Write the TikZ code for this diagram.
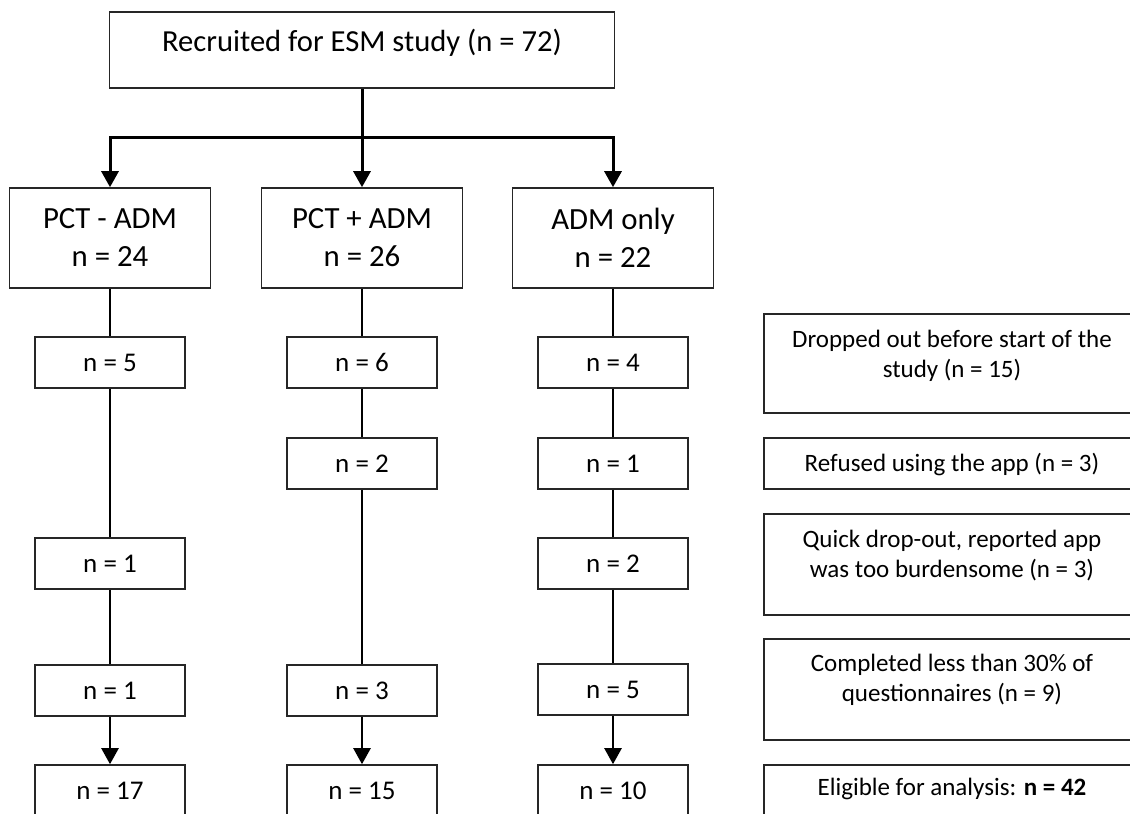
\documentclass[tikz,border=0pt]{standalone}
\usepackage{fontspec}
\setmainfont{Carlito}
\usetikzlibrary{arrows.meta}
\tikzset{
  box/.style={draw=black!85, line width=0.8pt, inner sep=0pt, fill=white, align=center},
  topbox/.style={box, minimum width=252.5pt, minimum height=38pt},
  grpbox/.style={box, minimum width=100.5pt, minimum height=50pt, font=\fontsize{15.4}{19}\selectfont},
  smallbox/.style={box, minimum width=75pt, minimum height=25.5pt, font=\fontsize{13.5}{16}\selectfont},
  sidebox/.style={box, minimum width=188pt},
  sidetext/.style={align=center, inner sep=0pt, font=\fontsize{12.5}{15}\selectfont},
  conn/.style={line width=1.2pt, black},
  arr/.style={conn, -{Triangle[length=8pt,width=8.5pt]}},
}
\begin{document}
\begin{tikzpicture}[x=0.5pt,y=-0.5pt]
\useasboundingbox (0,0) rectangle (1130,814);
\clip (0,0) rectangle (1130,814);
\fill[white] (0,0) rectangle (1130,814);

% top box
\node[topbox] (top) at (362,50) {};
\node[inner sep=0pt, font=\fontsize{15.3}{19}\selectfont] (ttop) at (362,43) {Recruited for ESM study (n = 72)};

% group boxes
\node[grpbox] (g1) at (110,238) {PCT - ADM\\n = 24};
\node[grpbox] (g2) at (362,238) {PCT + ADM\\n = 26};
\node[grpbox] (g3) at (613,238) {ADM only\\n = 22};

% branch
\coordinate (br) at (362,137);
\draw[line width=1.5pt] (top.south) -- (br);
\draw[arr, line width=1.5pt] (br) -| (g1.north);
\draw[arr, line width=1.5pt] (br) -| (g3.north);
\draw[arr, line width=1.5pt] (br) -- (g2.north);

% column 1
\node[smallbox] (a1) at (110,362.5) {n = 5};
\node[smallbox] (c1) at (110,563.5) {n = 1};
\node[smallbox] (d1) at (110,690.5) {n = 1};
\node[smallbox] (e1) at (110,790.5) {n = 17};
% column 2
\node[smallbox] (a2) at (362,362.5) {n = 6};
\node[smallbox] (b2) at (362,463.5) {n = 2};
\node[smallbox] (d2) at (362,690.5) {n = 3};
\node[smallbox] (e2) at (362,790.5) {n = 15};
% column 3
\node[smallbox] (a3) at (613,362.5) {n = 4};
\node[smallbox] (b3) at (613,463.5) {n = 1};
\node[smallbox] (c3) at (613,563.5) {n = 2};
\node[smallbox] (d3) at (613,689.5) {n = 5};
\node[smallbox] (e3) at (613,790.5) {n = 10};

\draw[conn] (g1.south) -- (a1.north);
\draw[conn] (a1.south) -- (c1.north);
\draw[conn] (c1.south) -- (d1.north);
\draw[arr] (d1.south) -- (e1.north);

\draw[conn] (g2.south) -- (a2.north);
\draw[conn] (a2.south) -- (b2.north);
\draw[conn] (b2.south) -- (d2.north);
\draw[arr] (d2.south) -- (e2.north);

\draw[conn] (g3.south) -- (a3.north);
\draw[conn] (a3.south) -- (b3.north);
\draw[conn] (b3.south) -- (c3.north);
\draw[conn] (c3.south) -- (d3.north);
\draw[arr] (d3.south) -- (e3.north);

% side boxes
\node[sidebox, minimum height=49.5pt] (r1) at (952,363.5) {};
\node[sidetext] (t1) at (952,356) {Dropped out before start of the\\study (n = 15)};
\node[sidebox, minimum height=25.5pt] (r2) at (952,463.5) {};
\node[sidetext] (t2) at (952,464) {Refused using the app (n = 3)};
\node[sidebox, minimum height=50.5pt] (r3) at (952,564.5) {};
\node[sidetext] (t3) at (952,556) {Quick drop-out, reported app\\was too burdensome (n = 3)};
\node[sidebox, minimum height=50.5pt] (r4) at (952,689.5) {};
\node[sidetext] (t4) at (952,680) {Completed less than 30\% of\\questionnaires (n = 9)};
\node[sidebox, minimum height=25.5pt] (r5) at (952,790.5) {};
\node[sidetext] (t5) at (952,789) {Eligible for analysis: \textbf{n = 42}};
\end{tikzpicture}
\end{document}
